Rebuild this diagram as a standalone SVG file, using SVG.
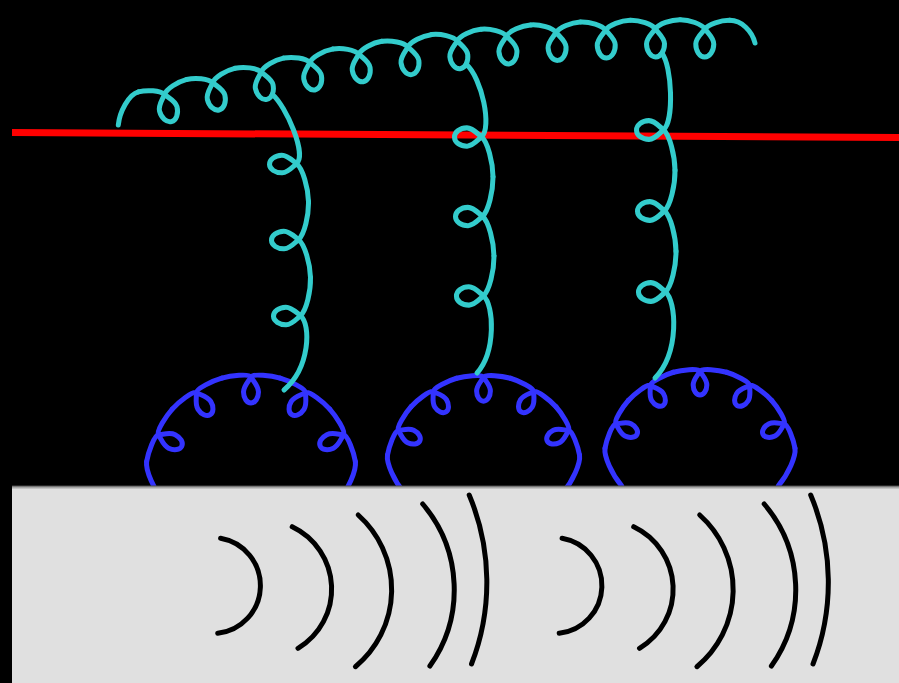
<svg xmlns="http://www.w3.org/2000/svg" xmlns:xlink="http://www.w3.org/1999/xlink" width="899" height="683" viewBox="0 0 899 683">
  <style>
    .gl { fill: none; stroke: #33cccc; stroke-width: 5; stroke-linecap: round; stroke-linejoin: round; }
    .bl { fill: none; stroke: #3333ff; stroke-linecap: round; stroke-linejoin: round; }
    .wv { fill: none; stroke: #000000; stroke-width: 5; stroke-linecap: round; }
    .q  { fill: none; stroke: #ff0000; stroke-width: 7; }
  </style>
  <defs>
    <!-- one period of the upper coil, loop centred on the origin, loop hanging toward +y -->
    <path id="tc" d="M-24.65,-23 C-15.65,-23 -3.44,-18.92 0,-14 C2.87,-9.9 9,-5 9,1 C9,8.15 4.95,14 0,14 C-4.95,14 -9,8.15 -9,1 C-9,-5 -2.87,-9.9 0,-14 C3.44,-18.92 15.65,-23 24.65,-23"/>
    <!-- one period of a hanging coil (full, from crossing, to crossing) -->
    <path id="vf" d="M-39,-24.5 C-25,-24.5 -5.14,-19.63 0,-13.5 C3.86,-8.9 9,-4.5 9,1 C9,7.9 4.95,13.5 0,13.5 C-4.95,13.5 -9,7.9 -9,1 C-9,-4.5 -3.86,-8.9 0,-13.5 C5.14,-19.63 25,-24.5 39,-24.5"/>
    <path id="va" d="M0,-13.5 C3.86,-8.9 9,-4.5 9,1 C9,7.9 4.95,13.5 0,13.5 C-4.95,13.5 -9,7.9 -9,1 C-9,-4.5 -3.86,-8.9 0,-13.5 C5.14,-19.63 25,-24.5 39,-24.5"/>
    <path id="vb" d="M-39,-24.5 C-25,-24.5 -5.14,-19.63 0,-13.5 C3.86,-8.9 9,-4.5 9,1 C9,7.9 4.95,13.5 0,13.5 C-4.95,13.5 -9,7.9 -9,1 C-9,-4.5 -3.86,-8.9 0,-13.5"/>
    <!-- one 32 degree period of the dome coil around its centre, loop pointing inward -->
    <path id="bc" d="M-29.22,-101.89 C-20.09,-104.51 -2,-106.46 0,-103 C2.5,-98.67 7.5,-94 7.5,-88 C7.5,-82 4.1,-77 0,-77 C-4.1,-77 -7.5,-82 -7.5,-88 C-7.5,-94 -2.5,-98.67 0,-103 C2,-106.46 20.09,-104.51 29.22,-101.89"/>
    <path id="be" d="M-104.39,-18.41 C-105.6,-9.5 -97,10 -86,23"/>
    <g id="dome">
      <use href="#be"/>
      <use href="#bc" transform="rotate(-64)"/>
      <use href="#bc" transform="rotate(-32)"/>
      <use href="#bc"/>
      <use href="#bc" transform="rotate(32)"/>
      <use href="#bc" transform="rotate(64)"/>
      <use href="#be" transform="scale(-1,1)"/>
    </g>
    <g id="waves">
      <path d="M220.6,538.3 A48,48 0 0 1 217.7,633.3"/>
      <path d="M292.2,526.7 A69,69 0 0 1 298,648.3"/>
      <path d="M358.2,515 A100,100 0 0 1 355.4,666.7"/>
      <path d="M422.7,504 A132,132 0 0 1 429.9,666"/>
      <path d="M469.2,495 A225,225 0 0 1 471.5,664"/>
    </g>
    <linearGradient id="edge" x1="0" y1="0" x2="0" y2="1">
      <stop offset="0" stop-color="#474747"/>
      <stop offset="0.5" stop-color="#a6a6a6"/>
      <stop offset="1" stop-color="#dfdfdf"/>
    </linearGradient>
  </defs>

  <rect width="899" height="683" fill="#000000"/>

  <!-- straight line across the top -->
  <g id="quark-line">
    <line class="q" x1="12" y1="132.5" x2="899" y2="137.5"/>
  </g>

  <!-- domes on the surface -->
  <g id="dome-1" class="bl" stroke-width="5" transform="translate(251,480)">
    <use href="#dome"/>
  </g>
  <g id="dome-2" class="bl" stroke-width="5.43" transform="translate(483.5,472) scale(0.92)">
    <use href="#dome"/>
  </g>
  <g id="dome-3" class="bl" stroke-width="5.5" transform="translate(700,465) scale(0.91)">
    <use href="#dome"/>
  </g>

  <!-- upper coil -->
  <g id="gluon-top" class="gl">
    <path d="M118.3,125 C119.5,112 128.72,94.34 138.41,91.85"/>
    <use href="#tc" transform="translate(168,108) rotate(-14.39)"/>
    <use href="#tc" transform="translate(215.9,96.31) rotate(-13.08)"/>
    <use href="#tc" transform="translate(264,85.71) rotate(-11.76)"/>
    <use href="#tc" transform="translate(312.4,76.22) rotate(-10.41)"/>
    <use href="#tc" transform="translate(361,67.89) rotate(-9.05)"/>
    <use href="#tc" transform="translate(409.8,60.73) rotate(-7.66)"/>
    <use href="#tc" transform="translate(458.7,54.75) rotate(-6.27)"/>
    <use href="#tc" transform="translate(507.8,49.97) rotate(-4.86)"/>
    <use href="#tc" transform="translate(557,46.4) rotate(-3.45)"/>
    <use href="#tc" transform="translate(606.2,44.05) rotate(-2.02)"/>
    <use href="#tc" transform="translate(655.5,42.91) rotate(-0.6)"/>
    <use href="#tc" transform="translate(704.8,42.99) rotate(0.83)"/>
    <path d="M729.78,20.35 C741.78,20.52 752,31 755,43"/>
  </g>

  <!-- hanging coils from the upper coil down to the domes -->
  <g id="gluon-1" class="gl">
    <path d="M272.3,94.4 C286,106 307.2,154.65 296.5,163.65"/>
    <use href="#va" transform="translate(283,164) rotate(88.5) scale(0.974,1)"/>
    <use href="#vf" transform="translate(284.99,239.97) rotate(88.5) scale(0.974,1)"/>
    <use href="#vb" transform="translate(286.98,315.94) rotate(88.5) scale(0.974,1)"/>
    <path d="M300.48,315.59 C311.2,324.59 310,368 284,390"/>
  </g>
  <g id="gluon-2" class="gl">
    <path d="M466.1,64.2 C482,78 492.2,127.84 481.5,136.84"/>
    <use href="#va" transform="translate(468,137) rotate(89.3) scale(1.0192,1)"/>
    <use href="#vf" transform="translate(468.97,216.49) rotate(89.3) scale(1.0192,1)"/>
    <use href="#vb" transform="translate(469.94,295.98) rotate(89.3) scale(1.0192,1)"/>
    <path d="M483.44,295.82 C494.16,304.82 496,352 477,373"/>
  </g>
  <g id="gluon-3" class="gl">
    <path d="M661.9,53.1 C672,66 674.2,120.84 663.5,129.84"/>
    <use href="#va" transform="translate(650,130) rotate(89.3) scale(1.0385,1)"/>
    <use href="#vf" transform="translate(650.99,210.99) rotate(89.3) scale(1.0385,1)"/>
    <use href="#vb" transform="translate(651.98,291.98) rotate(89.3) scale(1.0385,1)"/>
    <path d="M665.48,291.82 C676.2,300.82 680,352 655,378"/>
  </g>

  <!-- surface -->
  <g id="surface">
    <rect x="12" y="486" width="887" height="197" fill="#e0e0e0"/>
    <rect x="12" y="485.5" width="887" height="4" fill="url(#edge)"/>
  </g>

  <!-- wave fronts in the surface -->
  <g id="waves-1" class="wv">
    <use href="#waves"/>
  </g>
  <g id="waves-2" class="wv">
    <use href="#waves" transform="translate(341.5,0)"/>
  </g>
</svg>
